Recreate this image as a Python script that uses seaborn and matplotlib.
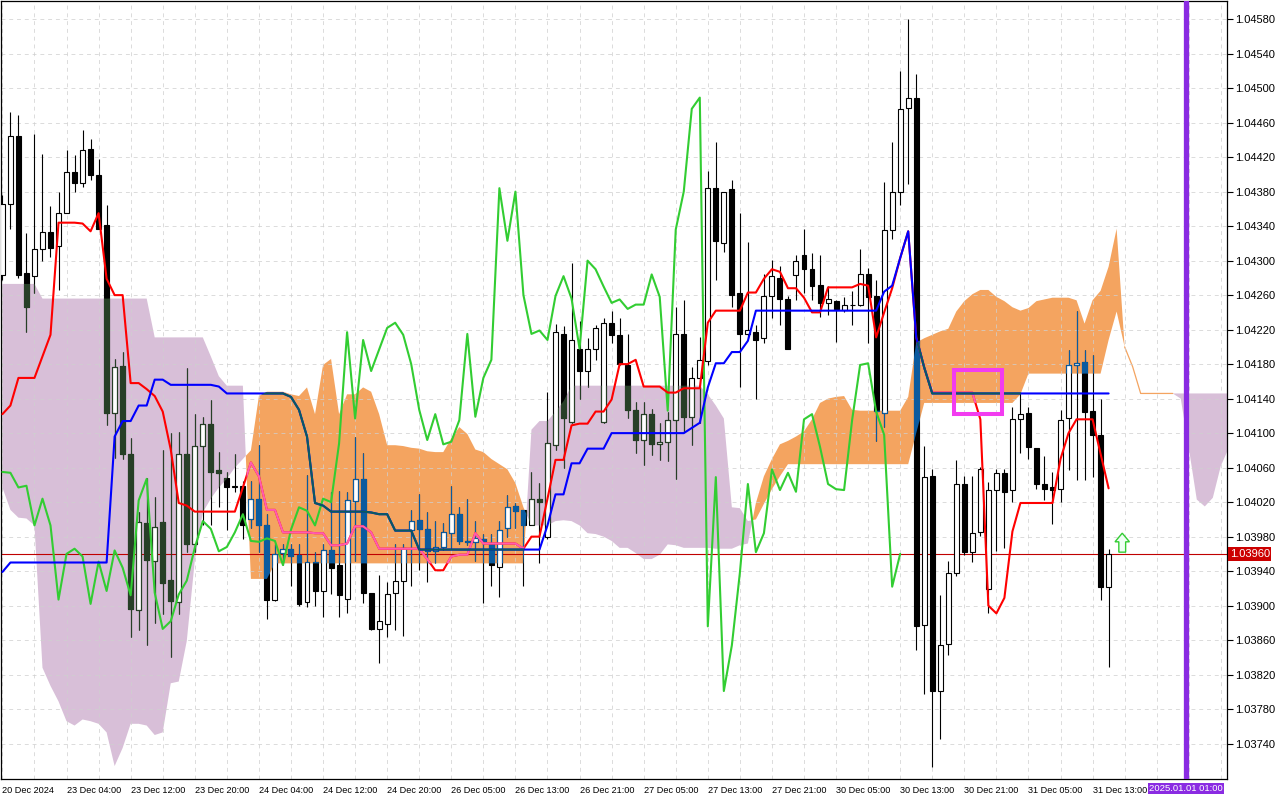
import numpy as np
import pandas as pd
import matplotlib
matplotlib.use("Agg")
import matplotlib.pyplot as plt
import matplotlib.transforms as mtransforms
from matplotlib.path import Path
from matplotlib.patches import Rectangle, FancyArrow
import seaborn as sns

# EURUSD H1, 20 Dec 2024 20:00 .. 31 Dec 2024, Ichimoku overlay

opens = [
    1.04283, 1.04366, 1.04444, 1.04286, 1.04282, 1.04313, 1.04333, 1.04317, 1.04355, 1.04403,
    1.04390, 1.04429, 1.04399, 1.04341, 1.04123, 1.04178, 1.04076, 1.03895, 1.03996, 1.03952,
    1.03997, 1.03930, 1.03904, 1.04076, 1.03972, 1.04085, 1.04111, 1.04057, 1.04048, 1.04037,
    1.04039, 1.04000, 1.04024, 1.03993, 1.03906, 1.03961, 1.03966, 1.03959, 1.03904, 1.03951,
    1.03917, 1.03964, 1.03947, 1.03908, 1.04021, 1.04047, 1.03915, 1.03873, 1.03879, 1.03915,
    1.03929, 1.03988, 1.03999, 1.03989, 1.03963, 1.03968, 1.03984, 1.04006, 1.03975, 1.03974,
    1.03977, 1.03972, 1.03945, 1.03990, 1.04015, 1.04011, 1.03993, 1.04024, 1.03980, 1.04086,
    1.04215, 1.04113, 1.04198, 1.04172, 1.04197, 1.04113, 1.04228, 1.04214, 1.04179, 1.04127,
    1.04092, 1.04122, 1.04087, 1.04090, 1.04115, 1.04215, 1.04119, 1.04164, 1.04184, 1.04384,
    1.04321, 1.04383, 1.04263, 1.04215, 1.04217, 1.04210, 1.04259, 1.04280, 1.04256, 1.04283,
    1.04307, 1.04290, 1.04272, 1.04251, 1.04253, 1.04243, 1.04249, 1.04249, 1.04284, 1.04259,
    1.04123, 1.04336, 1.04380, 1.04477, 1.04489, 1.03878, 1.04050, 1.03801, 1.03855, 1.03938,
    1.04041, 1.03962, 1.03985, 1.03919, 1.04034, 1.04054, 1.04034, 1.04116, 1.04123, 1.04083,
    1.04041, 1.04037, 1.04035, 1.04117, 1.04179, 1.04182, 1.04126, 1.04098, 1.03922,
]
highs = [
    1.04376, 1.04472, 1.04469, 1.04332, 1.04447, 1.04424, 1.04363, 1.04380, 1.04428, 1.04422,
    1.04451, 1.04441, 1.04418, 1.04365, 1.04186, 1.04194, 1.04094, 1.04009, 1.04048, 1.04026,
    1.04081, 1.04100, 1.04101, 1.04176, 1.04122, 1.04119, 1.04138, 1.04078, 1.04055, 1.04076,
    1.04045, 1.04045, 1.04086, 1.04006, 1.03972, 1.03972, 1.03972, 1.03972, 1.04052, 1.03962,
    1.03972, 1.04032, 1.04033, 1.04032, 1.04096, 1.04077, 1.03915, 1.03935, 1.03927, 1.03971,
    1.03972, 1.04011, 1.04029, 1.04008, 1.03998, 1.03996, 1.04039, 1.04014, 1.04024, 1.03998,
    1.03983, 1.03983, 1.03998, 1.04028, 1.04019, 1.04011, 1.04055, 1.04042, 1.04148, 1.04226,
    1.04224, 1.04297, 1.04230, 1.04210, 1.04225, 1.04233, 1.04242, 1.04233, 1.04215, 1.04136,
    1.04136, 1.04128, 1.04112, 1.04125, 1.04246, 1.04254, 1.04177, 1.04211, 1.04404, 1.04437,
    1.04380, 1.04394, 1.04355, 1.04322, 1.04225, 1.04284, 1.04301, 1.04294, 1.04259, 1.04306,
    1.04337, 1.04309, 1.04306, 1.04271, 1.04254, 1.04258, 1.04265, 1.04313, 1.04291, 1.04277,
    1.04391, 1.04438, 1.04520, 1.04580, 1.04516, 1.04085, 1.04058, 1.03912, 1.03952, 1.04069,
    1.04050, 1.04050, 1.04061, 1.04043, 1.04058, 1.04058, 1.04130, 1.04147, 1.04130, 1.04083,
    1.04074, 1.04055, 1.04127, 1.04196, 1.04242, 1.04196, 1.04190, 1.04140, 1.03966,
]
lows = [
    1.04278, 1.04337, 1.04280, 1.04217, 1.04262, 1.04299, 1.04304, 1.04266, 1.04355, 1.04380,
    1.04385, 1.04393, 1.04337, 1.04110, 1.04071, 1.04070, 1.03864, 1.03872, 1.03854, 1.03880,
    1.03890, 1.03841, 1.03890, 1.03962, 1.03962, 1.03993, 1.03993, 1.04014, 1.03988, 1.04032,
    1.03977, 1.03990, 1.03962, 1.03884, 1.03905, 1.03947, 1.03923, 1.03900, 1.03898, 1.03900,
    1.03887, 1.03913, 1.03887, 1.03891, 1.03952, 1.03903, 1.03872, 1.03834, 1.03864, 1.03872,
    1.03865, 1.03923, 1.03941, 1.03927, 1.03949, 1.03965, 1.03967, 1.03972, 1.03970, 1.03952,
    1.03903, 1.03923, 1.03910, 1.03980, 1.03990, 1.03923, 1.03993, 1.03949, 1.03977, 1.04081,
    1.04060, 1.04112, 1.04140, 1.04153, 1.04185, 1.04112, 1.04205, 1.04179, 1.04118, 1.04077,
    1.04063, 1.04075, 1.04069, 1.04068, 1.04047, 1.04101, 1.04086, 1.04112, 1.04179, 1.04278,
    1.04310, 1.04246, 1.04153, 1.04210, 1.04140, 1.04205, 1.04234, 1.04225, 1.04198, 1.04254,
    1.04263, 1.04254, 1.04235, 1.04237, 1.04206, 1.04240, 1.04225, 1.04247, 1.04205, 1.04091,
    1.04107, 1.04325, 1.04365, 1.04389, 1.03848, 1.03797, 1.03713, 1.03745, 1.03843, 1.03934,
    1.03959, 1.03951, 1.03981, 1.03892, 1.03963, 1.03967, 1.04020, 1.04077, 1.04070, 1.04035,
    1.04022, 1.03995, 1.04020, 1.04057, 1.04046, 1.04046, 1.04049, 1.03907, 1.03829,
]
closes = [
    1.04366, 1.04444, 1.04283, 1.04246, 1.04313, 1.04333, 1.04315, 1.04355, 1.04403, 1.04390,
    1.04428, 1.04399, 1.04337, 1.04123, 1.04177, 1.04076, 1.03896, 1.03997, 1.03953, 1.03991,
    1.03926, 1.03905, 1.04076, 1.03972, 1.04085, 1.04111, 1.04055, 1.04054, 1.04037, 1.04039,
    1.03993, 1.04024, 1.03993, 1.03907, 1.03960, 1.03966, 1.03957, 1.03902, 1.03951, 1.03917,
    1.03964, 1.03944, 1.03912, 1.04022, 1.04047, 1.03915, 1.03873, 1.03882, 1.03913, 1.03929,
    1.03967, 1.03998, 1.03989, 1.03963, 1.03968, 1.03985, 1.04006, 1.03975, 1.03974, 1.03978,
    1.03975, 1.03947, 1.03988, 1.04014, 1.04010, 1.03993, 1.04024, 1.04020, 1.04088, 1.04217,
    1.04117, 1.04208, 1.04172, 1.04197, 1.04222, 1.04228, 1.04214, 1.04180, 1.04127, 1.04092,
    1.04122, 1.04087, 1.04090, 1.04115, 1.04215, 1.04119, 1.04164, 1.04185, 1.04384, 1.04323,
    1.04380, 1.04260, 1.04215, 1.04219, 1.04208, 1.04259, 1.04282, 1.04256, 1.04198, 1.04300,
    1.04290, 1.04270, 1.04251, 1.04255, 1.04244, 1.04249, 1.04249, 1.04284, 1.04258, 1.04126,
    1.04336, 1.04380, 1.04476, 1.04489, 1.03876, 1.04049, 1.03801, 1.03854, 1.03938, 1.04041,
    1.03962, 1.03984, 1.04058, 1.04034, 1.04054, 1.04032, 1.04116, 1.04122, 1.04084, 1.04041,
    1.04035, 1.04034, 1.04115, 1.04179, 1.04181, 1.04125, 1.04098, 1.03922, 1.03960,
]

tenkan = [
    1.04122, 1.04132, 1.04164, 1.04164, 1.04164, 1.04189, 1.04214, 1.04344, 1.04344, 1.04344,
    1.04343, 1.04334, 1.04355, 1.04279, 1.04260, 1.04260, 1.04158, 1.04158, 1.04151, 1.04143,
    1.04125, 1.04081, 1.04019, 1.04016, 1.04009, 1.04009, 1.04009, 1.04009, 1.04009, 1.04009,
    1.04037, 1.04066, 1.04050, 1.04011, 1.04011, 1.03985, 1.03985, 1.03985, 1.03985, 1.03984,
    1.03984, 1.03970, 1.03970, 1.03972, 1.03992, 1.03992, 1.03985, 1.03966, 1.03966, 1.03966,
    1.03966, 1.03966, 1.03966, 1.03954, 1.03941, 1.03941, 1.03957, 1.03959, 1.03959, 1.03984,
    1.03972, 1.03972, 1.03972, 1.03972, 1.03972, 1.03966, 1.03980, 1.03980, 1.04024, 1.04069,
    1.04069, 1.04109, 1.04111, 1.04111, 1.04125, 1.04125, 1.04139, 1.04180, 1.04180, 1.04185,
    1.04154, 1.04154, 1.04154, 1.04147, 1.04147, 1.04152, 1.04152, 1.04152, 1.04228, 1.04242,
    1.04242, 1.04242, 1.04242, 1.04263, 1.04263, 1.04279, 1.04290, 1.04287, 1.04268, 1.04268,
    1.04257, 1.04240, 1.04240, 1.04269, 1.04269, 1.04269, 1.04269, 1.04273, 1.04271, 1.04211,
    1.04240, 1.04268, 1.04303, 1.04334, 1.04211, 1.04176, 1.04147, 1.04147, 1.04147, 1.04147,
    1.04147, 1.04147, 1.04116, 1.03900, 1.03891, 1.03909, 1.03986, 1.04019, 1.04019, 1.04019,
    1.04019, 1.04019, 1.04070, 1.04100, 1.04116, 1.04116, 1.04116, 1.04076, 1.04036,
]
kijun = [
    1.03939, 1.03950, 1.03950, 1.03950, 1.03950, 1.03950, 1.03950, 1.03950, 1.03950, 1.03950,
    1.03950, 1.03950, 1.03950, 1.03950, 1.04096, 1.04114, 1.04114, 1.04132, 1.04132, 1.04162,
    1.04162, 1.04156, 1.04156, 1.04156, 1.04156, 1.04156, 1.04156, 1.04154, 1.04146, 1.04146,
    1.04146, 1.04146, 1.04146, 1.04146, 1.04146, 1.04146, 1.04142, 1.04127, 1.04096, 1.04019,
    1.04016, 1.04009, 1.04009, 1.04009, 1.04009, 1.04009, 1.04008, 1.04006, 1.04006, 1.03987,
    1.03987, 1.03987, 1.03965, 1.03965, 1.03965, 1.03965, 1.03965, 1.03965, 1.03965, 1.03965,
    1.03965, 1.03965, 1.03965, 1.03965, 1.03965, 1.03965, 1.03965, 1.03965, 1.03993, 1.04029,
    1.04029, 1.04065, 1.04065, 1.04082, 1.04082, 1.04082, 1.04100, 1.04100, 1.04100, 1.04100,
    1.04100, 1.04100, 1.04100, 1.04100, 1.04100, 1.04100, 1.04106, 1.04112, 1.04153, 1.04181,
    1.04181, 1.04194, 1.04194, 1.04207, 1.04242, 1.04242, 1.04242, 1.04242, 1.04242, 1.04242,
    1.04242, 1.04242, 1.04242, 1.04242, 1.04242, 1.04242, 1.04242, 1.04242, 1.04242, 1.04242,
    1.04264, 1.04271, 1.04303, 1.04334, 1.04211, 1.04176, 1.04146, 1.04146, 1.04146, 1.04146,
    1.04146, 1.04146, 1.04146, 1.04146, 1.04146, 1.04146, 1.04146, 1.04146, 1.04146, 1.04146,
    1.04146, 1.04146, 1.04146, 1.04146, 1.04146, 1.04146, 1.04146, 1.04146, 1.04146,
]
# lagging line, plotted 26 bars back
chikou = [
    1.04055, 1.04054, 1.04037, 1.04039, 1.03993, 1.04024, 1.03993, 1.03907, 1.03960, 1.03966,
    1.03957, 1.03902, 1.03951, 1.03917, 1.03964, 1.03944, 1.03912, 1.04022, 1.04047, 1.03915,
    1.03873, 1.03882, 1.03913, 1.03929, 1.03967, 1.03998, 1.03989, 1.03963, 1.03968, 1.03985,
    1.04006, 1.03975, 1.03974, 1.03978, 1.03975, 1.03947, 1.03988, 1.04014, 1.04010, 1.03993,
    1.04024, 1.04020, 1.04088, 1.04217, 1.04117, 1.04208, 1.04172, 1.04197, 1.04222, 1.04228,
    1.04214, 1.04180, 1.04127, 1.04092, 1.04122, 1.04087, 1.04090, 1.04115, 1.04215, 1.04119,
    1.04164, 1.04185, 1.04384, 1.04323, 1.04380, 1.04260, 1.04215, 1.04219, 1.04208, 1.04259,
    1.04282, 1.04256, 1.04198, 1.04300, 1.04290, 1.04270, 1.04251, 1.04255, 1.04244, 1.04249,
    1.04249, 1.04284, 1.04258, 1.04126, 1.04336, 1.04380, 1.04476, 1.04489, 1.03876, 1.04049,
    1.03801, 1.03854, 1.03938, 1.04041, 1.03962, 1.03984, 1.04058, 1.04034, 1.04054, 1.04032,
    1.04116, 1.04122, 1.04084, 1.04041, 1.04035, 1.04034, 1.04115, 1.04179, 1.04181, 1.04125,
    1.04098, 1.03922, 1.03960,
]
span_a = [
    1.04037, 1.04011, 1.04002, 1.04001, 1.03993, 1.03828, 1.03807, 1.03789, 1.03766, 1.03761,
    1.03768, 1.03766, 1.03763, 1.03753, 1.03714, 1.03735, 1.03763, 1.03763, 1.03761, 1.03750,
    1.03753, 1.03810, 1.03812, 1.03859, 1.03952, 1.04008, 1.04024, 1.04037, 1.04047, 1.04060,
    1.04070, 1.04080, 1.04143, 1.04148, 1.04148, 1.04148, 1.04145, 1.04143, 1.04153, 1.04122,
    1.04179, 1.04186, 1.04122, 1.04145, 1.04145, 1.04153, 1.04148, 1.04122, 1.04086, 1.04086,
    1.04085, 1.04083, 1.04082, 1.04079, 1.04078, 1.04078, 1.04094, 1.04107, 1.04099, 1.04081,
    1.04078, 1.04070, 1.04064, 1.04058, 1.04042, 1.04014, 1.03993, 1.03993, 1.03993, 1.03998,
    1.03999, 1.03998, 1.03993, 1.03984, 1.03983, 1.03980, 1.03975, 1.03967, 1.03967, 1.03961,
    1.03954, 1.03954, 1.03959, 1.03971, 1.03970, 1.03967, 1.03967, 1.03967, 1.03967, 1.03966,
    1.03966, 1.03966, 1.03970, 1.03972, 1.04019, 1.04050, 1.04070, 1.04087, 1.04091, 1.04096,
    1.04102, 1.04116, 1.04135, 1.04140, 1.04142, 1.04143, 1.04127, 1.04126, 1.04126, 1.04126,
    1.04126, 1.04126, 1.04126, 1.04142, 1.04205, 1.04210, 1.04214, 1.04218, 1.04221, 1.04241,
    1.04253, 1.04261, 1.04266, 1.04266, 1.04258, 1.04253, 1.04246, 1.04242, 1.04245, 1.04253,
    1.04255, 1.04257, 1.04257, 1.04257, 1.04254, 1.04227, 1.04254, 1.04265, 1.04293, 1.04337,
    1.04200, 1.04177, 1.04146, 1.04146, 1.04146, 1.04146, 1.04146, 1.04140, 1.04083, 1.04023,
    1.04015, 1.04025, 1.04062, 1.04083,
]
span_b = [
    1.04273, 1.04273, 1.04273, 1.04273, 1.04273, 1.04256, 1.04256, 1.04256, 1.04256, 1.04256,
    1.04256, 1.04256, 1.04256, 1.04256, 1.04256, 1.04256, 1.04256, 1.04256, 1.04256, 1.04211,
    1.04211, 1.04211, 1.04211, 1.04211, 1.04211, 1.04211, 1.04189, 1.04166, 1.04155, 1.04155,
    1.04155, 1.03931, 1.03931, 1.03931, 1.03949, 1.03949, 1.03949, 1.03949, 1.03949, 1.03949,
    1.03949, 1.03949, 1.03949, 1.03949, 1.03949, 1.03949, 1.03949, 1.03949, 1.03949, 1.03949,
    1.03949, 1.03949, 1.03949, 1.03949, 1.03949, 1.03949, 1.03949, 1.03949, 1.03949, 1.03949,
    1.03949, 1.03949, 1.03949, 1.03949, 1.03949, 1.03949, 1.04104, 1.04114, 1.04114, 1.04125,
    1.04137, 1.04155, 1.04155, 1.04155, 1.04155, 1.04155, 1.04155, 1.04155, 1.04155, 1.04155,
    1.04155, 1.04155, 1.04155, 1.04155, 1.04155, 1.04155, 1.04155, 1.04155, 1.04145, 1.04132,
    1.04117, 1.04014, 1.04013, 1.03998, 1.04000, 1.04018, 1.04035, 1.04050, 1.04064, 1.04064,
    1.04064, 1.04064, 1.04064, 1.04064, 1.04064, 1.04064, 1.04064, 1.04064, 1.04064, 1.04064,
    1.04064, 1.04064, 1.04064, 1.04064, 1.04100, 1.04135, 1.04135, 1.04135, 1.04135, 1.04135,
    1.04135, 1.04135, 1.04135, 1.04135, 1.04135, 1.04135, 1.04135, 1.04145, 1.04169, 1.04169,
    1.04169, 1.04169, 1.04169, 1.04169, 1.04169, 1.04169, 1.04169, 1.04169, 1.04208, 1.04241,
    1.04200, 1.04177, 1.04146, 1.04146, 1.04146, 1.04146, 1.04146, 1.04146, 1.04146, 1.04146,
    1.04146, 1.04146, 1.04146, 1.04146,
]

time_labels = [
    "20 Dec 2024", "23 Dec 04:00", "23 Dec 12:00", "23 Dec 20:00", "24 Dec 04:00",
    "24 Dec 12:00", "24 Dec 20:00", "26 Dec 05:00", "26 Dec 13:00", "26 Dec 21:00",
    "27 Dec 05:00", "27 Dec 13:00", "27 Dec 21:00", "30 Dec 05:00", "30 Dec 13:00",
    "30 Dec 21:00", "31 Dec 05:00", "31 Dec 13:00",
]
label_bars = list(range(0, 137, 8))
grid_bars = list(range(0, 154, 4))
price_ticks = [round(1.03740 + 0.0004 * i, 5) for i in range(22)]

last_price = 1.03960
future_bar = 147.7
future_label = "2025.01.01 01:00"
box_bars = (118.75, 124.74)
box_prices = (1.04122, 1.04173)
arrow_bar = 139.7
arrow_prices = (1.03962, 1.03984)

# colours
C_ORANGE = "#f4a460"
C_THISTLE = "#d8bfd8"
INV_ORANGE = "#0b5b9f"   # black drawn over the orange cloud
INV_THISTLE = "#273f27"  # black drawn over the purple cloud

sns.set_style("white")
plt.rcParams["font.family"] = ["Liberation Sans", "DejaVu Sans"]

fig = plt.figure(figsize=(12.8, 8), dpi=100)
ax = fig.add_axes([1 / 1280, 21 / 800, 1226 / 1280, 778 / 800])

# cloud
xc = np.arange(len(span_a))
a = np.array(span_a)
b = np.array(span_b)
orange = ax.fill_between(xc, a, b, where=a >= b, interpolate=True, color=C_ORANGE, lw=0, zorder=1)
purple = ax.fill_between(xc, a, b, where=a < b, interpolate=True, color=C_THISTLE, lw=0, zorder=1)
# span A edge only shows where the cloud collapses to a thin line
flat = (a - b) < 0.00003
ax.plot(xc, np.ma.masked_where(~flat | (a < b - 0.00001), a), color=C_ORANGE, lw=0.9, zorder=1.2)

orange_clip = Path.make_compound_path(*orange.get_paths())
purple_clip = Path.make_compound_path(*purple.get_paths())

# candles
idx = np.arange(len(closes))
o = np.array(opens)
h = np.array(highs)
l = np.array(lows)
c = np.array(closes)
up = c >= o
lo = np.minimum(o, c)
hh = np.maximum(np.abs(c - o), 1e-7)
bw = 0.62

ax.vlines(idx, l, h, color="black", lw=0.8, zorder=3)
for clip, col in [(orange_clip, INV_ORANGE), (purple_clip, INV_THISTLE)]:
    wk = ax.vlines(idx, l, h, color=col, lw=0.8, zorder=3.1)
    wk.set_clip_path(clip, ax.transData)

ax.bar(idx[up], hh[up], bottom=lo[up], width=bw, facecolor="white", edgecolor="black",
       linewidth=0.8, zorder=3.2)
ax.bar(idx[~up], hh[~up], bottom=lo[~up], width=bw, facecolor="black", edgecolor="black",
       linewidth=0.8, zorder=3.2)
for clip, col in [(orange_clip, INV_ORANGE), (purple_clip, INV_THISTLE)]:
    bu = ax.bar(idx[up], hh[up], bottom=lo[up], width=bw, facecolor="none", edgecolor=col,
                linewidth=0.8, zorder=3.3)
    bd = ax.bar(idx[~up], hh[~up], bottom=lo[~up], width=bw, facecolor=col, edgecolor=col,
                linewidth=0.8, zorder=3.3)
    for p in list(bu.patches) + list(bd.patches):
        p.set_clip_path(clip, ax.transData)

# ichimoku lines
lines = pd.DataFrame({"bar": idx, "tenkan": tenkan, "kijun": kijun})
ch = pd.DataFrame({"bar": np.arange(len(chikou)), "chikou": chikou})

sns.lineplot(data=ch, x="bar", y="chikou", ax=ax, color="#32cd32", linewidth=1.5,
             estimator=None, sort=False, zorder=4)
sns.lineplot(data=lines, x="bar", y="tenkan", ax=ax, color="#ff0000", linewidth=1.5,
             estimator=None, sort=False, zorder=4.1)
sns.lineplot(data=lines, x="bar", y="tenkan", ax=ax, color="#ff5cb0", linewidth=1.5,
             estimator=None, sort=False, zorder=4.2)
ax.lines[-1].set_clip_path(orange_clip, ax.transData)
sns.lineplot(data=lines, x="bar", y="kijun", ax=ax, color="#0000ff", linewidth=1.5,
             estimator=None, sort=False, zorder=4.3)
sns.lineplot(data=lines, x="bar", y="kijun", ax=ax, color="#0a5a60", linewidth=1.5,
             estimator=None, sort=False, zorder=4.4)
ax.lines[-1].set_clip_path(orange_clip, ax.transData)

# last price line and label
ax.axhline(last_price, color="#c00000", lw=0.8, zorder=2.5)
blend = mtransforms.blended_transform_factory(ax.transAxes, ax.transData)
ax.text(1.0022, last_price, f"{last_price:.5f}", transform=blend, ha="left", va="center",
        color="white", fontsize=8, clip_on=False, zorder=10,
        bbox=dict(boxstyle="square,pad=0.15", fc="#cc0000", ec="none"))

# future time marker
ax.axvline(future_bar, color="#8a2be2", lw=3.8, zorder=5)
blend_x = mtransforms.blended_transform_factory(ax.transData, ax.transAxes)
ax.text(future_bar - 0.1, -0.0125, future_label, transform=blend_x, ha="center", va="center",
        color="white", fontsize=6.8, clip_on=False, zorder=10,
        bbox=dict(boxstyle="square,pad=0.12", fc="#8a2be2", ec="none"))

# highlight box and signal arrow
ax.add_patch(Rectangle((box_bars[0], box_prices[0]), box_bars[1] - box_bars[0],
                       box_prices[1] - box_prices[0], fill=False, ec="#f23cf0", lw=2.9, zorder=6))
ax.add_patch(FancyArrow(arrow_bar, arrow_prices[0], 0, arrow_prices[1] - arrow_prices[0],
                        width=0.85, head_width=1.8, head_length=0.0001, length_includes_head=True,
                        fc="#eefff4", ec="#33cc33", lw=1, zorder=6))

# axes
ax.set_xlim(-0.175, 152.77)
ax.set_ylim(1.03699, 1.04601)
ax.set_xlabel("")
ax.set_ylabel("")
ax.yaxis.tick_right()
ax.set_yticks(price_ticks)
ax.set_yticklabels([f"{v:.5f}" for v in price_ticks])
ax.set_xticks(label_bars)
ax.set_xticklabels(time_labels, ha="left")
ax.set_xticks(grid_bars, minor=True)
ax.tick_params(axis="x", which="minor", length=0)
ax.tick_params(axis="x", which="major", length=4, width=0.8, labelsize=6.6, pad=1.2, colors="black")
ax.tick_params(axis="y", which="major", length=4, width=0.8, labelsize=8, pad=1.5, colors="black")
ax.set_axisbelow("line")
ax.grid(which="both", axis="x", linestyle=(0, (4, 4)), color="#cfcfcf", lw=0.7, alpha=0.75)
ax.grid(which="major", axis="y", linestyle=(0, (4, 4)), color="#cfcfcf", lw=0.7, alpha=0.75)
for s in ax.spines.values():
    s.set_color("black")
    s.set_linewidth(0.9)

fig.savefig("out.png", dpi=100)
